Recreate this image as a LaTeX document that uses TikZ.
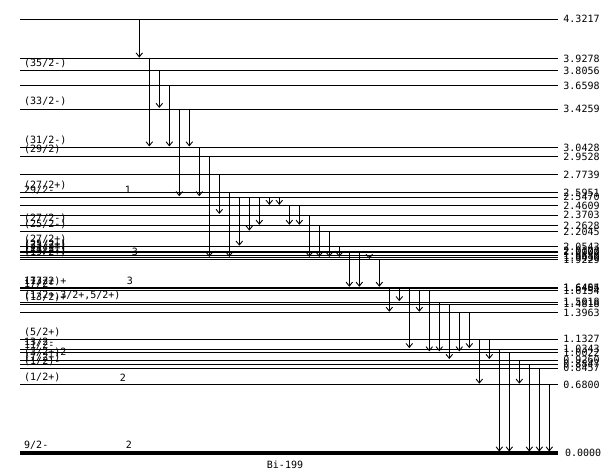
\documentclass[tikz,border=0pt]{standalone}
\usepackage{fontspec}
\setmonofont{DejaVu Sans Mono}
\usetikzlibrary{arrows.meta}
\newcommand\lyfont{\ttfamily\fontsize{10}{10}\selectfont}
\begin{document}
\begin{tikzpicture}[x=1pt,y=-1pt,
  lvl/.style={line width=0.9pt},
  gsl/.style={line width=4pt},
  gam/.style={line width=0.9pt,-{Straight Barb[length=4pt,width=6.5pt]},shorten >=1pt},
  elab/.style={anchor=west,font=\lyfont,inner sep=0pt,xshift=5pt},
  jlab/.style={anchor=south west,font=\lyfont,inner sep=0pt},
  blab/.style={anchor=south,font=\lyfont,inner sep=0pt}]
\useasboundingbox (0,0) rectangle (611,474);
\newcommand\lev[3]{%
  \coordinate (#1) at (0,{453-100.42*#2});
  \draw[lvl] ([xshift=20pt]#1) -- ([xshift=558pt]#1) node[elab] (#1r) {#2};
  \node[jlab] (#1l) at ([shift={(24,-2.5)}]#1) {#3};}
\newcommand\levn[2]{%
  \coordinate (#1) at (0,{453-100.42*#2});
  \draw[lvl] ([xshift=20pt]#1) -- ([xshift=558pt]#1) node[elab] (#1r) {#2};}
\newcommand\gm[3]{\draw[gam] ([xshift=#1pt]#2) -- ([xshift=#1pt]#3);}
% levels
\levn{La}{4.3217}
\levn{Lb}{3.9278}
\lev{Lc}{3.8056}{(35/2-)}
\levn{Ld}{3.6598}
\lev{Le}{3.4259}{(33/2-)}
\lev{Lf}{3.0428}{(31/2-)}
\lev{Lg}{2.9528}{(29/2)}
\levn{Lh}{2.7739}
\lev{Li}{2.5951}{(27/2+)}
\lev{Lj}{2.5470}{29/2-}
\levn{Lk}{2.4609}
\levn{Ll}{2.3703}
\lev{Lm}{2.2628}{(27/2-)}
\lev{Ln}{2.2045}{(25/2-)}
\lev{Lo}{2.0543}{(27/2+)}
\lev{Lp}{2.0103}{(25/2+)}
\lev{Lq}{2.0000}{(23/2+)}
\lev{Lr}{1.9680}{(21/2+)}
\lev{Ls}{1.9430}{(23/2-)}
\lev{Lt}{1.9229}{(19/2+)}
\lev{Lu}{1.6455}{17/2+}
\lev{Lv}{1.6404}{(13/2)+}
\lev{Lw}{1.6154}{17/2-}
\lev{Lx}{1.5018}{(1/2+,3/2+,5/2+)}
\lev{Ly}{1.4818}{(13/2)+}
\levn{Lz}{1.3963}
\lev{LA}{1.1327}{(5/2+)}
\lev{LB}{1.0343}{13/2-}
\lev{LC}{1.0022}{11/2-}
\lev{LD}{0.9260}{(3/2+)2}
\lev{LE}{0.8847}{(7/2+)}
\lev{LF}{0.8457}{(1/2)-}
\lev{LG}{0.6800}{(1/2+)}
\coordinate (LH) at (0,452.5);
\draw[gsl] ([xshift=20pt]LH) -- ([xshift=558pt]LH) node[elab] (LHr) {0.0000};
\node[jlab] (LHl) at ([shift={(24,-3)}]LH) {9/2-};
% band numbers
\node[blab] (b1) at (128,193.5) {1};
\node[blab] (b2) at (135,255.5) {3};
\node[blab] (b3) at (130,285) {3};
\node[blab] (b4) at (123,381.5) {2};
\node[blab] (b5) at (129,449) {2};
% transitions
\gm{139.3}{La}{Lb}
\gm{149.3}{Lb}{Lf}
\gm{159.3}{Lc}{Le}
\gm{169.3}{Ld}{Lf}
\gm{179.3}{Le}{Lj}
\gm{189.3}{Le}{Lf}
\gm{199.3}{Lf}{Lj}
\gm{209.3}{Lg}{Ls}
\gm{219.3}{Lh}{Ll}
\gm{229.3}{Li}{Ls}
\gm{239.3}{Lj}{Lo}
\gm{249.3}{Lj}{Ln}
\gm{259.3}{Lj}{Lm}
\gm{269.3}{Lj}{Lk}
\gm{279.3}{Lj}{Lk}
\gm{289.3}{Lk}{Lm}
\gm{299.3}{Lk}{Lm}
\gm{309.3}{Ll}{Ls}
\gm{319.3}{Lm}{Ls}
\gm{329.3}{Ln}{Ls}
\gm{339.3}{Lo}{Ls}
\gm{349.3}{Lq}{Lu}
\gm{359.3}{Lq}{Lu}
\gm{369.3}{Lr}{Lt}
\gm{379.3}{Lt}{Lu}
\gm{389.3}{Lv}{Lz}
\gm{399.3}{Lv}{Lx}
\gm{409.3}{Lv}{LB}
\gm{419.3}{Lw}{Lz}
\gm{429.3}{Lw}{LC}
\gm{439.3}{Lx}{LC}
\gm{449.3}{Ly}{LD}
\gm{459.3}{Lz}{LC}
\gm{469.3}{Lz}{LB}
\gm{479.3}{LA}{LG}
\gm{489.3}{LA}{LD}
\gm{499.3}{LB}{LH}
\gm{509.3}{LC}{LH}
\gm{519.3}{LD}{LG}
\gm{529.3}{LE}{LH}
\gm{539.3}{LF}{LH}
\gm{549.3}{LG}{LH}
\node[font=\lyfont] (title) at (285,465) {Bi-199};
\end{tikzpicture}
\end{document}
